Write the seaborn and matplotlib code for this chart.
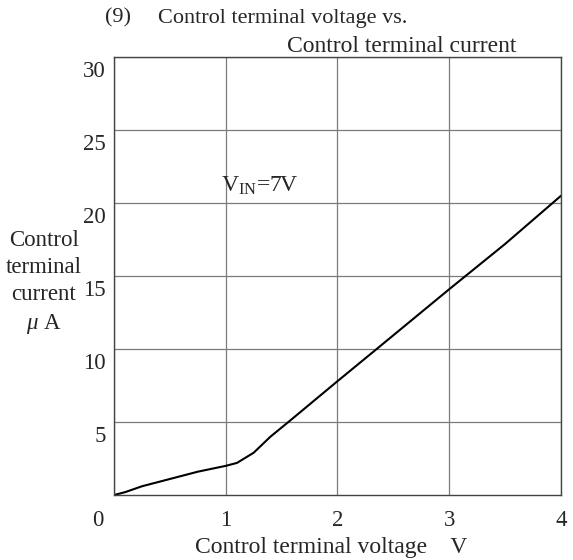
import matplotlib
matplotlib.use("Agg")
import matplotlib.pyplot as plt
import matplotlib.transforms as mtransforms
import seaborn as sns
import pandas as pd

# control terminal voltage (V) vs control terminal current (uA)
voltage = [0.0, 0.1, 0.25, 0.5, 0.75, 1.0, 1.1, 1.25, 1.4, 1.56, 2.0, 2.35, 3.0, 3.5, 4.0]
current = [0.0, 0.2, 0.6, 1.1, 1.6, 2.0, 2.2, 2.9, 4.0, 5.0, 7.8, 10.0, 14.1, 17.2, 20.5]
x_ticks = [0, 1, 2, 3, 4]
y_ticks = [5, 10, 15, 20, 25, 30]

df = pd.DataFrame({"voltage": voltage, "current": current})

sns.set_style("white")
plt.rcParams["font.family"] = ["Liberation Serif", "DejaVu Serif"]
plt.rcParams["mathtext.fontset"] = "custom"
plt.rcParams["mathtext.rm"] = "Liberation Serif"
plt.rcParams["mathtext.it"] = "Liberation Serif:italic"

fig = plt.figure(figsize=(5.73, 5.60), dpi=100)
ax = fig.add_axes([0.199, 0.116, 0.780, 0.782])

sns.lineplot(data=df, x="voltage", y="current", color="black", linewidth=1.5, ax=ax)

ax.set_xlim(0, 4)
ax.set_ylim(0, 30)
ax.set_xticks(x_ticks)
ax.set_yticks(y_ticks)
ax.set_xticklabels([str(t) for t in x_ticks], fontsize=16.5)
ax.set_yticklabels([str(t) for t in y_ticks], fontsize=16.5)
ax.tick_params(length=0, pad=11)
ax.tick_params(axis="y", pad=6)
ax.grid(True, color="#7a7a7a", linewidth=0.9)
for s in ax.spines.values():
    s.set_color("#444444")
    s.set_linewidth(1.0)
ax.set_xlabel("")
ax.set_ylabel("")

# nudge tick labels like the original drawing
for lab in ax.get_yticklabels():
    lab.set_transform(lab.get_transform() + mtransforms.ScaledTranslation(0, -0.12, fig.dpi_scale_trans))
xl = ax.get_xticklabels()
xl[0].set_transform(xl[0].get_transform() + mtransforms.ScaledTranslation(-0.16, 0, fig.dpi_scale_trans))

ax.text(0.96, 21.2, r"V$_{\rm IN}$=7V", fontsize=17, ha="left", va="center")

fig.text(105 / 573, 1 - 18 / 560, "(9)", fontsize=16, ha="left", va="center")
fig.text(158 / 573, 1 - 18 / 560, "Control terminal voltage vs.", fontsize=16, ha="left", va="center")
fig.text(287 / 573, 1 - 46 / 560, "Control terminal current", fontsize=17, ha="left", va="center")
fig.text(331 / 573, 1 - 548 / 560, "Control terminal voltage    V", fontsize=17, ha="center", va="center")
fig.text(44 / 573, 1 - 283 / 560, "Control\nterminal\ncurrent\n$\\mu$ A", fontsize=16.5,
         ha="center", va="center", linespacing=1.4)

fig.savefig("out.png", dpi=100, facecolor="white")
